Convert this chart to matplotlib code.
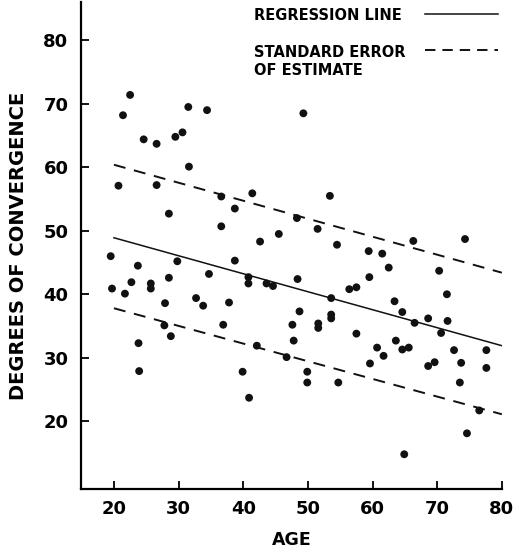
import matplotlib
matplotlib.use("Agg")
import matplotlib.pyplot as plt
from matplotlib.lines import Line2D

plt.rcParams["font.family"] = ["DejaVu Sans"]
plt.rcParams["lines.scale_dashes"] = False

# scatter data
age = [22.5, 21.4, 31.5, 34.4, 24.6, 26.6, 29.5, 30.6, 31.6, 20.7,
       26.6, 36.6, 41.4, 28.5, 38.7, 36.6, 48.3, 45.5, 42.6, 19.5,
       23.7, 29.8, 38.7, 34.7, 48.4, 22.7, 25.7, 25.7, 28.5, 19.7,
       21.7, 40.8, 40.8, 43.6, 44.6, 32.7, 49.3, 53.4, 51.5, 54.5,
       66.3, 74.3, 59.4, 61.5, 62.5, 70.3, 59.5, 56.4, 57.5, 53.6,
       63.4, 71.5, 48.7, 64.6, 53.6, 53.6, 68.6, 71.6, 47.6, 51.6,
       51.6, 66.5, 70.6, 57.5, 47.8, 63.6, 60.7, 64.6, 65.6, 61.7,
       72.6, 77.6, 46.7, 73.7, 59.6, 68.6, 69.6, 77.6, 49.9, 49.9,
       54.7, 73.5, 76.5, 74.6, 64.9, 33.8, 27.9, 37.8, 27.8, 36.9,
       28.8, 23.8, 42.1, 23.9, 39.9, 40.9]
convergence = [71.4, 68.2, 69.5, 69.0, 64.4, 63.7, 64.8, 65.5, 60.1, 57.1,
               57.2, 55.4, 55.9, 52.7, 53.5, 50.7, 52.0, 49.5, 48.3, 46.0,
               44.5, 45.2, 45.3, 43.2, 42.4, 41.9, 41.7, 40.9, 42.6, 40.9,
               40.1, 42.7, 41.7, 41.7, 41.3, 39.4, 68.5, 55.5, 50.3, 47.8,
               48.4, 48.7, 46.8, 46.4, 44.2, 43.7, 42.7, 40.8, 41.1, 39.4,
               38.9, 40.0, 37.3, 37.2, 36.8, 36.2, 36.2, 35.8, 35.2, 35.4,
               34.7, 35.5, 33.9, 33.8, 32.7, 32.7, 31.6, 31.3, 31.6, 30.3,
               31.2, 31.2, 30.1, 29.2, 29.1, 28.7, 29.3, 28.4, 27.8, 26.1,
               26.1, 26.1, 21.7, 18.1, 14.8, 38.2, 38.6, 38.7, 35.1, 35.2,
               33.4, 32.3, 31.9, 27.9, 27.8, 23.7]

# regression line and +/- standard error of estimate
fit_age = [20, 80]
fit_line = [48.9, 31.9]
se_upper = [60.4, 43.4]
se_lower = [37.8, 21.1]

ticks = [20, 30, 40, 50, 60, 70, 80]

fig = plt.figure(figsize=(5.19, 5.54), dpi=100)
ax = fig.add_axes([0.156, 0.117, 0.811, 0.879])

ax.scatter(age, convergence, s=32, color="#111111", edgecolors="none", zorder=3)
ax.plot(fit_age, fit_line, color="#111111", lw=1.1)
ax.plot(fit_age, se_upper, color="#111111", lw=1.4, dashes=(8.6, 6.3))
ax.plot(fit_age, se_lower, color="#111111", lw=1.4, dashes=(8.6, 6.3))

ax.set_xlim(14.9, 80)
ax.set_ylim(9.3, 86.0)
ax.set_xticks(ticks)
ax.set_yticks(ticks)
ax.spines["top"].set_visible(False)
ax.spines["right"].set_visible(False)
for s in ("left", "bottom"):
    ax.spines[s].set_linewidth(1.6)
ax.tick_params(direction="in", length=6, width=1.3, labelsize=13, pad=9)
ax.tick_params(axis="x", pad=8)
for lab in ax.get_xticklabels() + ax.get_yticklabels():
    lab.set_fontweight("bold")

ax.set_xlabel("AGE", fontsize=12.5, fontweight="bold", labelpad=9)
ax.set_ylabel("DEGREES OF CONVERGENCE", fontsize=14, fontweight="bold", labelpad=11)

# legend, top right
fig.text(254 / 519, 1 - 15 / 554, "REGRESSION LINE", fontsize=10.5,
         fontweight="bold", ha="left", va="center")
fig.text(254 / 519, 1 - 45 / 554, "STANDARD ERROR\nOF ESTIMATE", fontsize=10.5,
         fontweight="bold", ha="left", va="top", linespacing=1.25)
fig.add_artist(Line2D([425 / 519, 498 / 519], [1 - 14 / 554, 1 - 14 / 554],
                      color="#111111", lw=1.1))
fig.add_artist(Line2D([425 / 519, 498 / 519], [1 - 50 / 554, 1 - 50 / 554],
                      color="#111111", lw=1.4, dashes=(7.5, 5)))

fig.savefig("out.png", dpi=100, facecolor="white")
